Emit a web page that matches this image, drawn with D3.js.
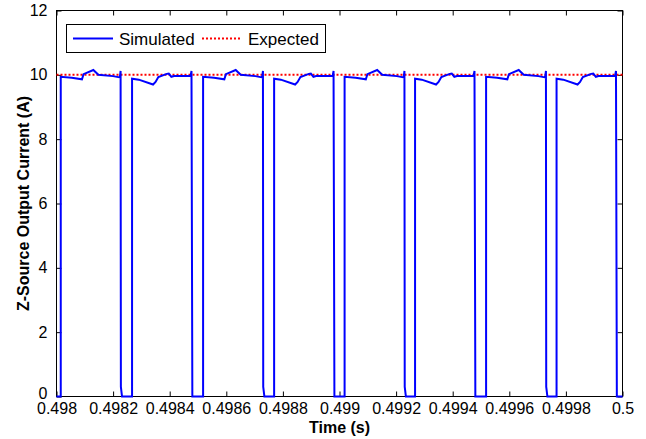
<!DOCTYPE html>
<html>
<head>
<meta charset="utf-8">
<script src="https://cdn.jsdelivr.net/npm/d3@7"></script>
<style>
  html, body { margin: 0; padding: 0; background: #fff; }
  svg { display: block; }
  text { font-family: Arial, "Liberation Sans", sans-serif; fill: #000; }
</style>
</head>
<body>
<svg id="chart" width="646" height="439"></svg>
<script>
// Switching cycle start times (s) and which current shape each cycle follows
const cycleStart = [0.498015, 0.498267, 0.498518, 0.498769, 0.499018, 0.499267, 0.499518, 0.499767];
const cycleShape = ["A", "B", "A", "B", "A", "B", "A", "B"];

// Shape A: time offset from cycle start (µs) and current (A)
const shapeA_us = [0, 0, 39, 75, 80.6, 115.2, 132.9, 184.8, 208.8, 211.5, 212.5, 216.6];
const shapeA_i  = [0, 9.94, 9.91, 9.86, 10.02, 10.15, 10.0, 9.96, 9.92, 10.12, 0.3, 0];

// Shape B: time offset from cycle start (µs) and current (A)
const shapeB_us = [0, 0, 23.7, 74.2, 83, 92.9, 122.6, 129.7, 138.9, 148.4, 206.7, 210, 213];
const shapeB_i  = [0, 9.88, 9.85, 9.70, 9.78, 9.93, 10.03, 10.04, 9.94, 9.96, 9.96, 10.12, 0];

const expectedCurrent = 10;
const timeRange = [0.498, 0.5];
const xTicks = [0.498, 0.4982, 0.4984, 0.4986, 0.4988, 0.499, 0.4992, 0.4994, 0.4996, 0.4998, 0.5];
const xTickLabels = ["0.498", "0.4982", "0.4984", "0.4986", "0.4988", "0.499", "0.4992", "0.4994", "0.4996", "0.4998", "0.5"];
const yTicks = [0, 2, 4, 6, 8, 10, 12];

// Assemble the simulated waveform
const shapes = { A: [shapeA_us, shapeA_i], B: [shapeB_us, shapeB_i] };
const simulated = [{ t: timeRange[0], i: 0 }];
cycleStart.forEach((t0, k) => {
  const [dts, vals] = shapes[cycleShape[k]];
  dts.forEach((dt, j) => simulated.push({ t: t0 + dt * 1e-6, i: vals[j] }));
});
simulated.push({ t: timeRange[1], i: 0 });

const svg = d3.select("#chart");
const L = 56.5, R = 622.5, T = 10.5, B = 396.5;

const x = d3.scaleLinear().domain(timeRange).range([L, R]);
const y = d3.scaleLinear().domain([0, 12]).range([B, T]);

// Axes box and inward ticks
const tickLen = 5;
const xAxisBottom = d3.axisBottom(x).tickValues(xTicks).tickSizeInner(-tickLen).tickSizeOuter(0)
  .tickFormat((d, i) => xTickLabels[i]).tickPadding(6.5);
const xAxisTop = d3.axisTop(x).tickValues(xTicks).tickSizeInner(-tickLen).tickSizeOuter(0).tickFormat("");
const yAxisLeft = d3.axisLeft(y).tickValues(yTicks).tickSizeInner(-tickLen).tickSizeOuter(0).tickPadding(9);
const yAxisRight = d3.axisRight(y).tickValues(yTicks).tickSizeInner(-tickLen).tickSizeOuter(0).tickFormat("");

function styleAxis(g) {
  g.select(".domain").remove();
  g.selectAll(".tick line").attr("stroke", "#000").attr("stroke-width", 1);
  g.selectAll(".tick text").attr("font-size", 16).attr("font-family", "Arial, 'Liberation Sans', sans-serif").attr("fill", "#000");
}

svg.append("g").attr("transform", `translate(0,${B})`).call(xAxisBottom).call(styleAxis);
svg.append("g").attr("transform", `translate(0,${T})`).call(xAxisTop).call(styleAxis);
const yg = svg.append("g").attr("transform", `translate(${L},0)`).call(yAxisLeft).call(styleAxis);
// lowest label sits a touch higher so it clears the time labels
yg.selectAll(".tick text").attr("dy", d => d === 0 ? "0.12em" : "0.32em");
svg.append("g").attr("transform", `translate(${R},0)`).call(yAxisRight).call(styleAxis);

svg.append("rect")
  .attr("x", L).attr("y", T).attr("width", R - L).attr("height", B - T)
  .attr("fill", "none").attr("stroke", "#000").attr("stroke-width", 1);

// Expected current
svg.append("line")
  .attr("x1", x(timeRange[0])).attr("x2", x(timeRange[1]))
  .attr("y1", y(expectedCurrent)).attr("y2", y(expectedCurrent))
  .attr("stroke", "#ff0000").attr("stroke-width", 2).attr("stroke-dasharray", "2,2");

// Simulated current
const line = d3.line().x(d => x(d.t)).y(d => y(d.i));
svg.append("path")
  .datum(simulated)
  .attr("d", line)
  .attr("fill", "none")
  .attr("stroke", "#0000ff")
  .attr("stroke-width", 2)
  .attr("stroke-linejoin", "miter");

// Axis titles
svg.append("text")
  .attr("x", (L + R) / 2).attr("y", 433)
  .attr("text-anchor", "middle")
  .attr("font-size", 16).attr("font-weight", "bold")
  .text("Time (s)");

svg.append("text")
  .attr("transform", `translate(29,${(T + B) / 2}) rotate(-90)`)
  .attr("text-anchor", "middle")
  .attr("font-size", 16).attr("font-weight", "bold")
  .text("Z-Source Output Current (A)");

// Legend
const leg = svg.append("g");
leg.append("rect")
  .attr("x", 66.5).attr("y", 24.5).attr("width", 259).attr("height", 28)
  .attr("fill", "#fff").attr("stroke", "#000").attr("stroke-width", 1);
leg.append("line")
  .attr("x1", 73).attr("x2", 113).attr("y1", 38.5).attr("y2", 38.5)
  .attr("stroke", "#0000ff").attr("stroke-width", 2);
leg.append("text")
  .attr("x", 119).attr("y", 44.5).attr("font-size", 17)
  .text("Simulated");
leg.append("line")
  .attr("x1", 202).attr("x2", 242).attr("y1", 38.5).attr("y2", 38.5)
  .attr("stroke", "#ff0000").attr("stroke-width", 2).attr("stroke-dasharray", "2,2");
leg.append("text")
  .attr("x", 248).attr("y", 44.5).attr("font-size", 17)
  .text("Expected");
</script>
</body>
</html>
